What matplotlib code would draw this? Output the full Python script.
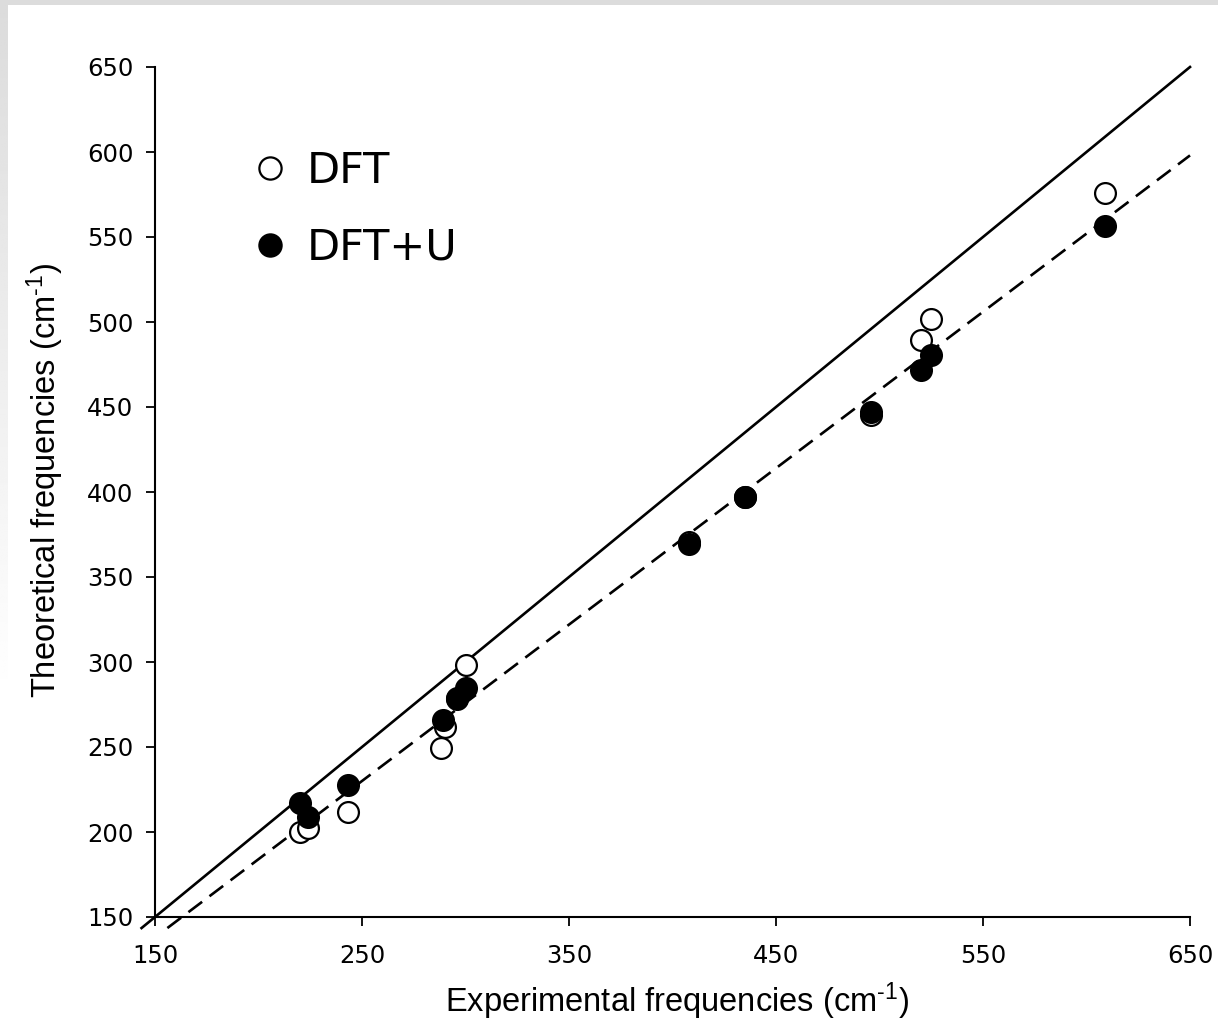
import numpy as np
import matplotlib
matplotlib.use("Agg")
import matplotlib.pyplot as plt
from matplotlib.lines import Line2D

plt.rcParams["mathtext.fontset"] = "custom"
plt.rcParams["mathtext.rm"] = "Liberation Sans"
plt.rcParams["mathtext.it"] = "Liberation Sans:italic"
plt.rcParams["mathtext.bf"] = "Liberation Sans:bold"

# ---- data ----
exp_dft = [220, 224, 243, 288, 290, 296, 300, 408, 435, 496, 520, 525, 609]
theo_dft = [200, 202.4, 211.8, 249.4, 261.8, 278.5, 298.2, 370.5, 397, 445.3, 489.4, 501.5, 575.8]

exp_dftu = [220, 224, 243, 289, 296, 300, 408, 435, 496, 520, 525, 609]
theo_dftu = [217, 208.8, 227.6, 265.9, 279.0, 284.7, 369.5, 397, 447, 471.8, 480.6, 556.5]

fit_slope = 0.92          # dashed line y = 0.92 x
x_ticks = [150, 250, 350, 450, 550, 650]
y_ticks = [150, 200, 250, 300, 350, 400, 450, 500, 550, 600, 650]
lims = (150, 650)
line_low = 143.5

W, H = 1218, 1029
fig = plt.figure(figsize=(W / 100, H / 100), dpi=100)
fig.patch.set_facecolor("white")

# background strips (grey frame at the top and left)
bg = fig.add_axes([0, 0, 1, 1], zorder=-10)
bg.set_axis_off()
grad = np.linspace(0.86, 1.0, 256).reshape(-1, 1)
bg.imshow(grad, cmap="gray", vmin=0, vmax=1,
          extent=[0, 8, 700, 0], aspect="auto")
bg.add_patch(plt.Rectangle((0, 0), W, 5, color="#dcdcdc", lw=0))
bg.set_xlim(0, W)
bg.set_ylim(H, 0)

ax = fig.add_axes([155 / W, 1 - 917 / H, (1190 - 155) / W, (917 - 67) / H])
ax.set_xlim(*lims)
ax.set_ylim(*lims)

# identity line (solid) and proportional fit (dashed)
ax.plot([line_low, lims[1]], [line_low, lims[1]], color="black", lw=1.9,
        clip_on=False, zorder=2)
x0 = line_low / fit_slope
ax.plot([x0, lims[1]], [fit_slope * x0, fit_slope * lims[1]], color="black",
        lw=1.9, dashes=(6.5, 3.5), clip_on=False, zorder=2)

ax.plot(exp_dft, theo_dft, linestyle="none", marker="o", ms=15, mfc="white",
        mec="black", mew=1.6, zorder=3, clip_on=False)
ax.plot(exp_dftu, theo_dftu, linestyle="none", marker="o", ms=15, mfc="black",
        mec="black", mew=1.6, zorder=4, clip_on=False)

for s in ["top", "right"]:
    ax.spines[s].set_visible(False)
for s in ["left", "bottom"]:
    ax.spines[s].set_linewidth(1.5)

ax.set_xticks(x_ticks)
ax.set_yticks(y_ticks)
ax.tick_params(axis="both", direction="out", length=6.5, width=1.3,
               labelsize=17.5, labelfontfamily="DejaVu Sans")
ax.tick_params(axis="x", pad=13)
ax.tick_params(axis="y", pad=9)

lab_font = dict(family="Liberation Sans", size=23.5)
sup = r"$^{\mathregular{\u2010}1}$".replace(r"\u2010", "\u2010")
ax.set_xlabel("Experimental frequencies (cm" + sup + ")", **lab_font)
ax.set_ylabel("Theoretical frequencies (cm" + sup + ")", **lab_font)
ax.xaxis.set_label_coords(0.5 + 4 / 1035, (917 - 980) / (917 - 67))
ax.yaxis.set_label_coords((66 - 155) / (1190 - 155), 0.5 + 11 / 850)

handles = [
    Line2D([], [], linestyle="none", marker="o", ms=16, mfc="white",
           mec="black", mew=1.6),
    Line2D([], [], linestyle="none", marker="o", ms=16, mfc="black",
           mec="black", mew=1.6),
]
leg = ax.legend(handles, ["DFT", "DFT+U"], loc="upper left",
                bbox_to_anchor=(259 / W, 1 - 150 / H),
                bbox_transform=fig.transFigure, frameon=False,
                prop=dict(family="DejaVu Sans", size=31), borderpad=0,
                borderaxespad=0, handlelength=0.5, handletextpad=0.6,
                labelspacing=0.81)

fig.savefig("out.png", dpi=100, facecolor=fig.get_facecolor())
